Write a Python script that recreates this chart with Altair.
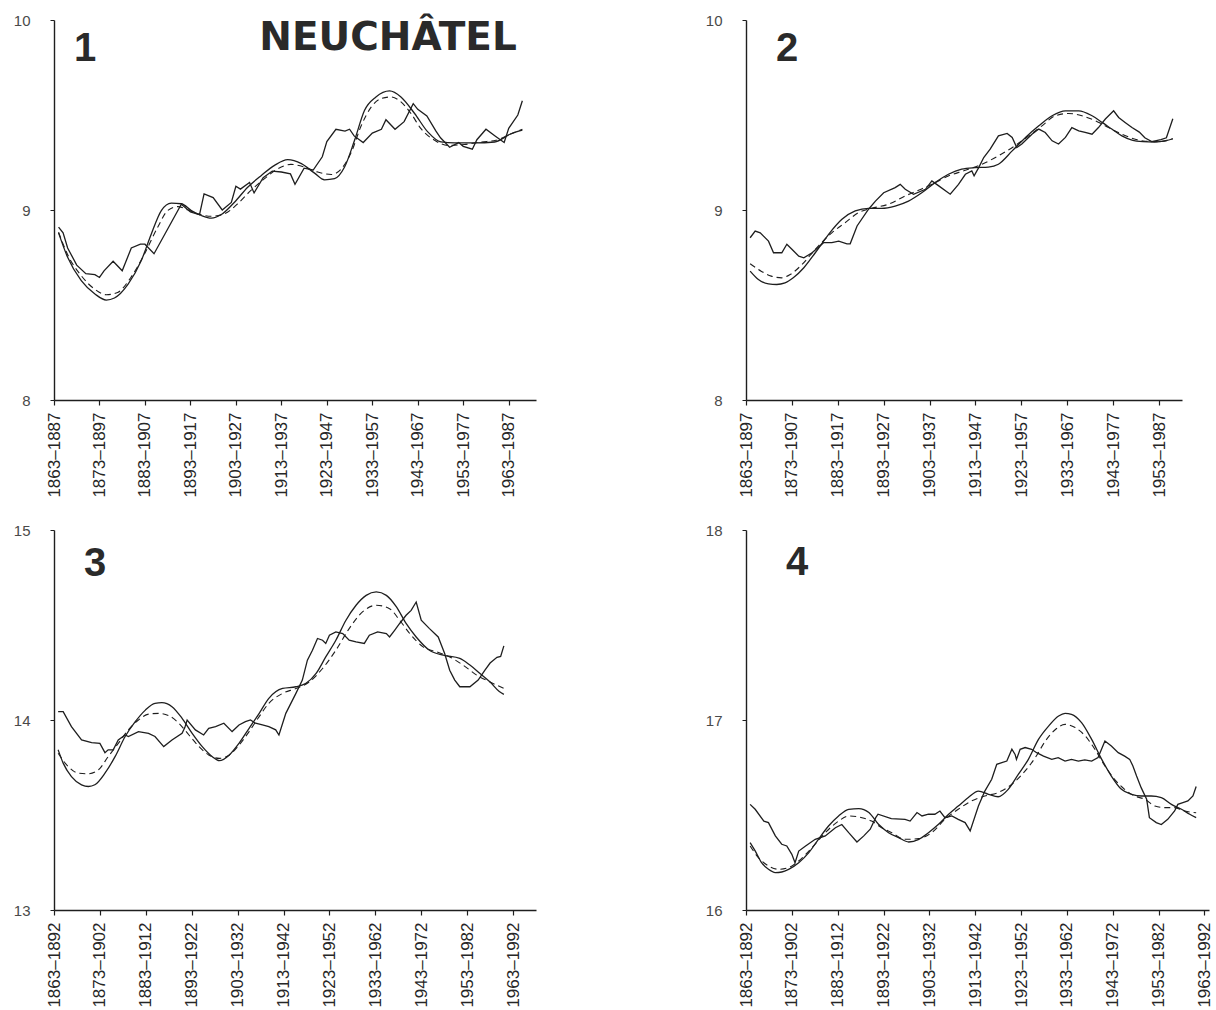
import altair as alt
import pandas as pd

# ---------------------------------------------------------------------------
# Moving-window means (start year of window -> value) and two fitted curves
# ---------------------------------------------------------------------------

# Panel 1 : 25-year windows
P1_OBS_START = [1864, 1865, 1866, 1868, 1870, 1872, 1873, 1874, 1876, 1878, 1880, 1882, 1883, 1885,
                1888, 1891, 1893, 1895, 1896, 1898, 1900, 1902, 1903, 1904, 1906, 1907, 1909, 1911,
                1913, 1915, 1916, 1918, 1920, 1922, 1923, 1925, 1927, 1928, 1929, 1931, 1933, 1935,
                1936, 1938, 1940, 1942, 1943, 1945, 1947, 1948, 1950, 1952, 1953, 1955, 1956, 1958,
                1960, 1962, 1963, 1965, 1966]
P1_OBS = [8.91, 8.88, 8.80, 8.71, 8.665, 8.66, 8.645, 8.68, 8.73, 8.68, 8.80, 8.82, 8.82, 8.77,
          8.90, 9.03, 8.99, 8.975, 9.085, 9.065, 9.00, 9.04, 9.125, 9.11, 9.145, 9.09, 9.17, 9.205,
          9.20, 9.19, 9.135, 9.22, 9.21, 9.28, 9.36, 9.425, 9.415, 9.425, 9.39, 9.355, 9.405, 9.425,
          9.475, 9.425, 9.465, 9.56, 9.53, 9.495, 9.415, 9.38, 9.33, 9.355, 9.335, 9.32, 9.37, 9.425,
          9.39, 9.355, 9.43, 9.50, 9.575]
P1_FIT_START = [1864, 1866, 1869, 1872, 1874.5, 1876.3, 1879.3, 1882.2, 1884.4, 1886.6, 1888.8, 1891,
                1893.2, 1895.4, 1897.6, 1899.8, 1902.7, 1905.6, 1908.6, 1911.5, 1914.4, 1917.4, 1920.3,
                1922.5, 1924.7, 1926.9, 1929.1, 1931.3, 1933.8, 1936.8, 1939.3, 1942.3, 1945.2, 1948.1,
                1951.1, 1955.5, 1959.9, 1963.4, 1966]
P1_FIT = [8.88, 8.751, 8.628, 8.558, 8.526, 8.537, 8.61, 8.734, 8.874, 8.997, 9.036, 9.033,
          8.997, 8.971, 8.957, 8.976, 9.041, 9.12, 9.182, 9.235, 9.265, 9.244, 9.194,
          9.159, 9.165, 9.226, 9.367, 9.525, 9.595, 9.627, 9.595, 9.508, 9.411, 9.358,
          9.353, 9.353, 9.358, 9.40, 9.42]
P1_TREND_START = [1864, 1866.1, 1869, 1871.9, 1874.5, 1877, 1879.9, 1882.9, 1885.8, 1888, 1890.2, 1892.4,
                  1894.6, 1897.6, 1900.5, 1903.4, 1906.3, 1909.3, 1912.2, 1915.1, 1918.1, 1921, 1924,
                  1926.2, 1928.4, 1930.6, 1932.8, 1935, 1937.2, 1939.3, 1941.5, 1943.7, 1946.7, 1949.6,
                  1953.3, 1957, 1960.2, 1963.4, 1966]
P1_TREND = [8.883, 8.76, 8.654, 8.584, 8.554, 8.566, 8.645, 8.769, 8.909, 8.997, 9.018, 9.001,
            8.98, 8.967, 8.98, 9.033, 9.103, 9.165, 9.217, 9.24, 9.226, 9.2, 9.187,
            9.217, 9.305, 9.446, 9.543, 9.587, 9.595, 9.569, 9.508, 9.428, 9.367, 9.34,
            9.345, 9.358, 9.367, 9.40, 9.425]

# Panel 2 : 35-year windows
P2_OBS_START = [1863.9, 1865.0, 1866.1, 1867.9, 1869.0, 1870.8, 1871.9, 1873.0, 1874.5, 1875.6, 1877.4,
                1879.9, 1881.7, 1883.2, 1885.0, 1885.7, 1887.2, 1889.7, 1891.2, 1893.0, 1895.5, 1896.6,
                1897.7, 1899.5, 1902.1, 1903.5, 1905.0, 1907.5, 1909.3, 1910.8, 1912.2, 1912.7, 1913.7,
                1914.8, 1916.2, 1918.0, 1919.9, 1921.0, 1922.0, 1923.1, 1925.3, 1926.8, 1928.2, 1929.7,
                1931.1, 1932.6, 1934.0, 1935.5, 1936.9, 1938.4, 1939.8, 1941.3, 1943.1, 1944.2, 1945.6,
                1947.1, 1948.7, 1949.9, 1951.4, 1953.4, 1954.6, 1956.0]
P2_OBS = [8.854, 8.889, 8.880, 8.836, 8.775, 8.775, 8.820, 8.793, 8.757, 8.748, 8.775,
          8.828, 8.828, 8.836, 8.822, 8.822, 8.916, 9.004, 9.047, 9.091, 9.118, 9.135,
          9.109, 9.083, 9.109, 9.153, 9.127, 9.083, 9.135, 9.188, 9.206, 9.180, 9.223,
          9.276, 9.320, 9.390, 9.403, 9.382, 9.329, 9.347, 9.399, 9.426, 9.408, 9.364,
          9.347, 9.382, 9.434, 9.417, 9.408, 9.399, 9.434, 9.479, 9.522, 9.487, 9.461,
          9.434, 9.410, 9.380, 9.360, 9.370, 9.380, 9.480]
P2_FIT_START = [1863.9, 1865.7, 1867.9, 1869.7, 1871.5, 1873.3, 1875.6, 1878.1, 1881.0, 1883.9, 1886.8,
                1889.7, 1892.6, 1895.5, 1898.4, 1901.3, 1904.2, 1907.1, 1910.0, 1912.9, 1915.8, 1918.0,
                1921.0, 1923.9, 1926.8, 1929.7, 1932.6, 1935.5, 1938.4, 1940.6, 1942.7, 1944.9, 1947.1,
                1949.5, 1952.0, 1954.5, 1956.0]
P2_FIT = [8.678, 8.634, 8.611, 8.608, 8.616, 8.643, 8.696, 8.775, 8.872, 8.951, 8.995,
          9.009, 9.009, 9.021, 9.047, 9.091, 9.144, 9.188, 9.215, 9.223, 9.226, 9.241,
          9.311, 9.382, 9.443, 9.496, 9.522, 9.522, 9.496, 9.461, 9.426, 9.390, 9.368,
          9.360, 9.358, 9.365, 9.375]
P2_TREND_START = [1863.9, 1866.3, 1868.5, 1870.8, 1872.6, 1875.2, 1878.1, 1881.7, 1884.6, 1887.5, 1890.4,
                  1894.0, 1897.7, 1900.6, 1903.5, 1907.1, 1910.8, 1914.4, 1918.0, 1921.6, 1924.6, 1927.5,
                  1930.4, 1933.3, 1936.2, 1939.1, 1942.0, 1944.9, 1947.1, 1950.0, 1953.0, 1956.0]
P2_TREND = [8.717, 8.678, 8.652, 8.643, 8.660, 8.713, 8.793, 8.880, 8.933, 8.986, 9.009,
            9.030, 9.074, 9.104, 9.135, 9.179, 9.209, 9.241, 9.285, 9.338, 9.390, 9.443,
            9.496, 9.508, 9.496, 9.470, 9.434, 9.399, 9.378, 9.362, 9.360, 9.375]

# Panel 3 : 30-year windows
P3_OBS_START = [1863.9, 1865.0, 1866.8, 1869.0, 1871.2, 1873.0, 1874.1, 1874.8, 1875.9, 1877.0, 1878.5,
                1879.2, 1881.4, 1883.6, 1885.0, 1886.9, 1888.7, 1890.9, 1891.5, 1892.0, 1893.8, 1895.6,
                1896.7, 1898.2, 1900.0, 1901.8, 1903.3, 1904.7, 1905.8, 1906.9, 1908.4, 1909.8, 1911.3,
                1912.0, 1913.5, 1915.7, 1917.1, 1918.2, 1919.3, 1920.4, 1921.5, 1922.2, 1923.0, 1924.4,
                1925.9, 1927.3, 1928.8, 1930.6, 1931.7, 1933.5, 1935.4, 1936.1, 1937.2, 1938.3, 1939.7,
                1940.8, 1941.9, 1943.0, 1944.8, 1946.7, 1948.1, 1949.2, 1950.3, 1951.4, 1953.6, 1955.4,
                1956.8, 1958.0, 1959.5, 1960.3, 1961.0]
P3_OBS = [14.044, 14.044, 13.965, 13.895, 13.881, 13.877, 13.828, 13.843, 13.843, 13.895, 13.921,
          13.913, 13.939, 13.930, 13.913, 13.860, 13.895, 13.930, 13.960, 14.000, 13.948, 13.921,
          13.956, 13.965, 13.983, 13.939, 13.974, 13.991, 14.000, 13.983, 13.974, 13.965, 13.948,
          13.921, 14.035, 14.140, 14.210, 14.315, 14.367, 14.429, 14.420, 14.403, 14.446, 14.464,
          14.455, 14.420, 14.411, 14.403, 14.446, 14.464, 14.455, 14.437, 14.472, 14.508, 14.551,
          14.577, 14.621, 14.525, 14.481, 14.437, 14.350, 14.262, 14.210, 14.175, 14.175, 14.210,
          14.260, 14.300, 14.330, 14.335, 14.390]
P3_FIT_START = [1863.9, 1865.0, 1866.8, 1869.0, 1870.5, 1871.9, 1874.1, 1876.3, 1878.5, 1880.7, 1882.9,
                1885.0, 1886.5, 1888.7, 1890.9, 1893.1, 1895.3, 1897.5, 1899.0, 1901.2, 1903.3, 1905.5,
                1907.7, 1909.8, 1912.8, 1915.7, 1917.9, 1920.1, 1922.2, 1924.4, 1926.6, 1928.8, 1931.0,
                1933.2, 1935.4, 1937.6, 1939.7, 1941.9, 1944.8, 1947.8, 1951.4, 1953.6, 1955.8, 1958.0,
                1960.0, 1961.0]
P3_FIT = [13.843, 13.773, 13.702, 13.659, 13.650, 13.659, 13.720, 13.807, 13.913, 13.991, 14.052,
          14.088, 14.091, 14.070, 14.009, 13.930, 13.860, 13.807, 13.786, 13.816, 13.877, 13.956,
          14.035, 14.114, 14.166, 14.175, 14.193, 14.245, 14.332, 14.420, 14.525, 14.604, 14.656,
          14.674, 14.656, 14.595, 14.508, 14.437, 14.367, 14.341, 14.324, 14.289, 14.245, 14.200,
          14.150, 14.135]
P3_TREND_START = [1863.9, 1866.1, 1868.3, 1870.5, 1872.7, 1874.8, 1877.0, 1879.2, 1881.4, 1883.6, 1885.8,
                  1888.0, 1890.2, 1892.4, 1894.6, 1896.7, 1899.0, 1901.2, 1903.3, 1905.5, 1907.7, 1909.8,
                  1912.8, 1915.7, 1918.6, 1921.5, 1924.4, 1927.3, 1930.2, 1933.2, 1936.1, 1938.3, 1940.5,
                  1943.4, 1946.3, 1949.2, 1952.1, 1955.1, 1958.0, 1961.0]
P3_TREND = [13.825, 13.755, 13.720, 13.717, 13.738, 13.807, 13.877, 13.948, 14.000, 14.031, 14.035,
            14.023, 13.983, 13.921, 13.860, 13.816, 13.798, 13.816, 13.868, 13.939, 14.018, 14.088,
            14.140, 14.166, 14.200, 14.271, 14.367, 14.481, 14.569, 14.604, 14.586, 14.525, 14.455,
            14.385, 14.359, 14.332, 14.289, 14.236, 14.200, 14.166]

# Panel 4 : 30-year windows
P4_OBS_START = [1863.9, 1865.0, 1866.9, 1867.9, 1869.4, 1870.8, 1871.9, 1873.0, 1873.7, 1874.5, 1876.0,
                1878.1, 1880.3, 1882.5, 1883.9, 1885.4, 1887.2, 1888.7, 1890.1, 1891.3, 1891.8, 1894.7,
                1897.7, 1898.8, 1900.3, 1901.4, 1902.8, 1904.2, 1905.3, 1906.4, 1907.9, 1909.3, 1910.8,
                1911.9, 1913.7, 1915.1, 1916.6, 1917.7, 1918.8, 1919.9, 1921.0, 1921.7, 1922.0, 1922.8,
                1923.9, 1925.3, 1926.4, 1927.9, 1929.7, 1931.1, 1932.6, 1934.0, 1935.5, 1936.9, 1938.4,
                1939.8, 1941.3, 1942.7, 1944.2, 1945.6, 1946.7, 1947.4, 1948.2, 1949.2, 1950.4, 1951.0,
                1952.5, 1953.6, 1955.0, 1956.5, 1957.2, 1958.3, 1959.4, 1960.5, 1961.2]
P4_OBS = [16.556, 16.530, 16.468, 16.460, 16.390, 16.346, 16.337, 16.293, 16.249, 16.310, 16.337,
          16.372, 16.390, 16.433, 16.450, 16.407, 16.358, 16.390, 16.425, 16.486, 16.504, 16.481,
          16.477, 16.468, 16.513, 16.495, 16.504, 16.504, 16.521, 16.486, 16.495, 16.477, 16.460,
          16.416, 16.547, 16.626, 16.688, 16.767, 16.776, 16.784, 16.846, 16.819, 16.793, 16.846,
          16.855, 16.846, 16.828, 16.810, 16.793, 16.802, 16.784, 16.793, 16.784, 16.790, 16.784,
          16.802, 16.889, 16.863, 16.828, 16.810, 16.793, 16.758, 16.705, 16.644, 16.583, 16.486,
          16.460, 16.450, 16.477, 16.521, 16.556, 16.565, 16.574, 16.600, 16.650]
P4_FIT_START = [1863.9, 1865.0, 1866.4, 1867.9, 1869.4, 1870.8, 1872.3, 1874.5, 1876.7, 1878.8, 1881.0,
                1883.2, 1885.4, 1887.6, 1889.8, 1891.9, 1894.1, 1896.3, 1898.5, 1900.7, 1902.8, 1905.0,
                1907.2, 1909.3, 1911.5, 1913.7, 1915.9, 1918.0, 1920.2, 1922.4, 1924.6, 1926.8, 1929.0,
                1931.2, 1932.6, 1934.0, 1936.2, 1938.4, 1940.6, 1942.7, 1944.9, 1947.1, 1949.3, 1951.4,
                1953.6, 1955.8, 1958.0, 1959.8, 1961.2]
P4_FIT = [16.355, 16.311, 16.249, 16.214, 16.197, 16.200, 16.214, 16.249, 16.302, 16.372, 16.442,
          16.495, 16.530, 16.534, 16.513, 16.451, 16.407, 16.381, 16.358, 16.372, 16.407, 16.451,
          16.504, 16.547, 16.592, 16.626, 16.609, 16.596, 16.635, 16.714, 16.793, 16.898, 16.968,
          17.021, 17.035, 17.030, 16.986, 16.898, 16.793, 16.705, 16.635, 16.609, 16.600, 16.600,
          16.592, 16.556, 16.530, 16.504, 16.486]
P4_TREND_START = [1863.9, 1865.7, 1867.9, 1870.1, 1872.3, 1874.5, 1877.4, 1880.3, 1883.2, 1885.4, 1888.3,
                  1890.4, 1892.6, 1894.8, 1897.7, 1900.7, 1903.5, 1906.4, 1909.3, 1912.2, 1915.1, 1918.0,
                  1921.0, 1923.9, 1926.1, 1928.3, 1930.5, 1932.6, 1934.8, 1937.0, 1939.1, 1941.3, 1943.4,
                  1945.6, 1947.8, 1950.0, 1952.2, 1954.4, 1956.5, 1958.7, 1961.2]
P4_TREND = [16.337, 16.276, 16.232, 16.214, 16.223, 16.258, 16.328, 16.407, 16.468, 16.495, 16.486,
            16.468, 16.433, 16.407, 16.372, 16.376, 16.407, 16.477, 16.530, 16.574, 16.600, 16.618,
            16.662, 16.732, 16.802, 16.889, 16.950, 16.977, 16.960, 16.916, 16.846, 16.758, 16.688,
            16.635, 16.600, 16.583, 16.547, 16.539, 16.539, 16.521, 16.512]

# Axis ticks: first year of each window and its period label
TICK_STARTS = [1863, 1873, 1883, 1893, 1903, 1913, 1923, 1933, 1943, 1953, 1963]
P1_TICK_LABELS = ["1863–1887", "1873–1897", "1883–1907", "1893–1917", "1903–1927", "1913–1937",
                  "1923–1947", "1933–1957", "1943–1967", "1953–1977", "1963–1987"]
P2_TICK_LABELS = ["1863–1897", "1873–1907", "1883–1917", "1893–1927", "1903–1937", "1913–1947",
                  "1923–1957", "1933–1967", "1943–1977", "1953–1987"]
P34_TICK_LABELS = ["1863–1892", "1873–1902", "1883–1912", "1893–1922", "1903–1932", "1913–1942",
                   "1923–1952", "1933–1962", "1943–1972", "1953–1982", "1963–1992"]

P1_Y_RANGE = [8, 10]
P2_Y_RANGE = [8, 10]
P3_Y_RANGE = [13, 15]
P4_Y_RANGE = [16, 18]

PANEL_NUMBERS = ["1", "2", "3", "4"]
PLACE_NAME = "NEUCHÂTEL"

INK = "#1e1e1e"
FONT = "Liberation Sans"


def label_expr(labels):
    arr = ",".join("'" + s + "'" for s in labels)
    return "[" + arr + "][round((datum.value - 1863) / 10)]"


def panel(obs, fit, trend, y_range, x_end, width, ticks, tick_labels, number, num_xy, extra=None):
    xs = alt.Scale(domain=[1863, x_end], nice=False, zero=False)
    ys = alt.Scale(domain=y_range, nice=False, zero=False)
    x_axis = alt.Axis(values=ticks, labelExpr=label_expr(tick_labels), labelAngle=-90,
                      labelFontSize=17, labelFont=FONT, labelColor="#262626", labelPadding=7,
                      tickSize=5, tickColor=INK, tickWidth=1.2, domainColor=INK, domainWidth=1.4,
                      grid=False, labelOverlap=False, labelBound=False, title=None)
    # one tick per unit on the value axis
    y_axis = alt.Axis(tickCount=2, labelExpr="format(datum.value, 'd')", labelFontSize=15,
                      labelFont=FONT, labelColor="#4a4a4a", labelPadding=20, tickSize=4,
                      tickColor=INK, tickWidth=1.0, domainColor=INK, domainWidth=1.4, grid=False,
                      labelOverlap=False, labelFlush=False, labelBound=False, title=None)

    def frame(xv, yv):
        return pd.DataFrame({"start": xv, "value": yv})

    enc = dict(x=alt.X("start:Q", scale=xs, axis=x_axis), y=alt.Y("value:Q", scale=ys, axis=y_axis))

    obs_line = alt.Chart(frame(*obs)).mark_line(color=INK, strokeWidth=1.3).encode(**enc)
    fit_line = alt.Chart(frame(*fit)).mark_line(
        color=INK, strokeWidth=1.3, interpolate="monotone").encode(**enc)
    trend_line = alt.Chart(frame(*trend)).mark_line(
        color=INK, strokeWidth=1.1, strokeDash=[6, 4], interpolate="monotone").encode(**enc)
    num_text = alt.Chart(pd.DataFrame({"label": [number]})).mark_text(
        font=FONT, fontWeight="bold", fontSize=40, color="#2a2a2a", align="center", baseline="middle"
    ).encode(text="label:N", x=alt.value(num_xy[0]), y=alt.value(num_xy[1]))
    layers = [obs_line, fit_line, trend_line, num_text]
    if extra is not None:
        layers.append(alt.Chart(pd.DataFrame({"label": [extra]})).mark_text(
            font="DejaVu Sans", fontWeight="bold", fontSize=39, color="#2a2a2a",
            align="center", baseline="middle"
        ).encode(text="label:N", x=alt.value(334), y=alt.value(18)))
    return alt.layer(*layers).properties(width=width, height=380)


p1 = panel((P1_OBS_START, P1_OBS), (P1_FIT_START, P1_FIT), (P1_TREND_START, P1_TREND),
           P1_Y_RANGE, 1969, 482, TICK_STARTS, P1_TICK_LABELS, PANEL_NUMBERS[0], (31, 29), extra=PLACE_NAME)
p2 = panel((P2_OBS_START, P2_OBS), (P2_FIT_START, P2_FIT), (P2_TREND_START, P2_TREND),
           P2_Y_RANGE, 1958, 436, TICK_STARTS[:10], P2_TICK_LABELS, PANEL_NUMBERS[1], (41, 29))
p3 = panel((P3_OBS_START, P3_OBS), (P3_FIT_START, P3_FIT), (P3_TREND_START, P3_TREND),
           P3_Y_RANGE, 1968, 482, TICK_STARTS, P34_TICK_LABELS, PANEL_NUMBERS[2], (41, 34))
p4 = panel((P4_OBS_START, P4_OBS), (P4_FIT_START, P4_FIT), (P4_TREND_START, P4_TREND),
           P4_Y_RANGE, 1964, 463, TICK_STARTS, P34_TICK_LABELS, PANEL_NUMBERS[3], (51, 33))

chart = alt.concat(
    p1, p2, p3, p4, columns=2, spacing={"row": 130, "column": 210}, align="none", bounds="flush"
).properties(
    padding={"left": 13, "top": 13, "right": 0, "bottom": 0},
    background="white",
).configure_view(stroke=None)

chart.save("out.html", embed_options={"renderer": "svg", "actions": False})
